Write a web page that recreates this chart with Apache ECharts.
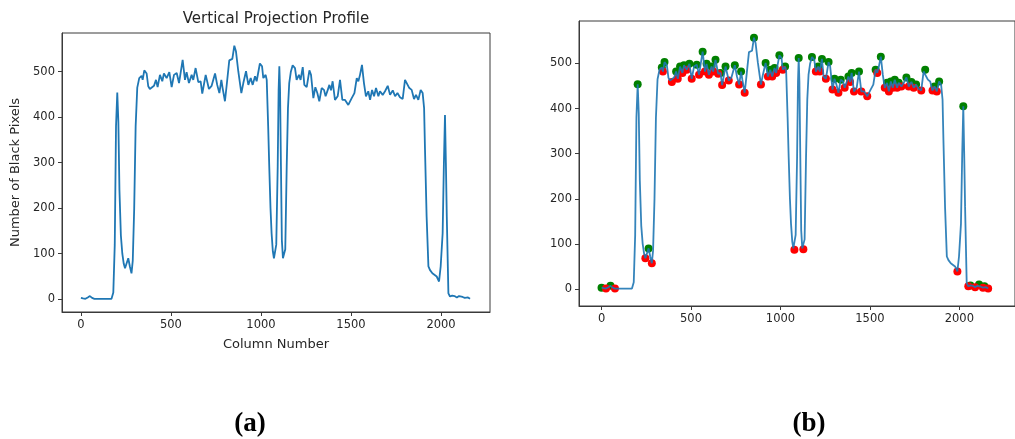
<!DOCTYPE html>
<html><head><meta charset="utf-8">
<script src="https://cdn.jsdelivr.net/npm/echarts@6/dist/echarts.min.js"></script>
<style>html,body{margin:0;padding:0;background:#fff}#c{width:1015px;height:439px}</style>
</head><body><div id="c"></div>
<script>
// Column numbers (x) and number of black pixels (y) read from the profile
const colX = [0,12,25,38,50,62,75,90,170,180,188,195,202,208,214,222,230,238,245,253,263,272,281,288,296,304,313,324,337,343,352,365,374,383,393,406,417,426,439,452,461,476,491,504,517,532,545,565,578,587,600,615,624,637,652,665,674,693,711,726,745,757,769,780,787,800,809,824,841,852,861,874,891,902,917,930,943,954,967,976,994,1006,1013,1026,1032,1040,1046,1053,1059,1066,1072,1078,1085,1093,1098,1102,1106,1111,1116,1122,1128,1135,1143,1150,1157,1166,1176,1189,1198,1211,1220,1232,1241,1254,1269,1278,1291,1302,1313,1324,1337,1350,1359,1371,1380,1389,1398,1411,1426,1439,1452,1467,1485,1504,1519,1532,1541,1550,1561,1572,1583,1596,1606,1617,1628,1639,1652,1661,1676,1689,1704,1717,1732,1745,1758,1772,1787,1800,1809,1824,1837,1850,1861,1874,1887,1898,1906,1911,1920,1930,1939,1952,1963,1976,1989,1998,2009,2016,2022,2027,2032,2041,2050,2062,2075,2088,2100,2110,2120,2132,2140,2150,2161];
const blackPx = [3,2,1,4,7,3,1,1,1,15,120,380,454,390,240,140,100,78,68,70,90,72,57,85,200,380,465,486,491,482,503,496,468,462,459,469,482,466,493,479,496,486,499,466,493,497,475,526,482,499,475,493,482,508,477,479,452,493,462,469,496,471,453,482,464,435,468,525,528,557,545,501,453,475,501,471,486,471,490,479,518,512,486,493,482,380,292,200,145,105,90,87,120,292,460,512,460,292,130,90,88,110,292,420,475,500,514,508,482,493,482,510,471,466,503,493,442,466,453,435,464,460,446,460,471,459,479,438,446,482,438,438,427,442,453,486,479,493,515,475,446,457,438,460,446,464,446,457,449,457,469,449,459,446,453,444,440,482,486,464,460,440,449,438,460,453,420,329,182,72,64,57,54,50,39,72,145,300,405,300,182,13,6,8,7,4,7,10,5,3,6,4,1];
const xTicks = [0,500,1000,1500,2000];
const yTicks = [0,100,200,300,400,500];
const titleText = 'Vertical Projection Profile';
const xName = 'Column Number';
const yName = 'Number of Black Pixels';
const panelLabels = ['(a)','(b)'];

const profile = colX.map((x,i)=>[x, blackPx[i]]);
const maxima = [], minima = [];
for (let i=0;i<blackPx.length;i++){
  const p = i>0 ? blackPx[i-1] : -Infinity, n = i<blackPx.length-1 ? blackPx[i+1] : -Infinity;
  const p2 = i>0 ? blackPx[i-1] : Infinity, n2 = i<blackPx.length-1 ? blackPx[i+1] : Infinity;
  if (blackPx[i] > p && blackPx[i] >= n) maxima.push([colX[i], blackPx[i]]);
  if (blackPx[i] < p2 && blackPx[i] <= n2) minima.push([colX[i], blackPx[i]]);
}

const FONT = 'DejaVu Sans';
const TXT = '#262626';
const AX = '#3a3a3a';
const plain = v => String(v);
function xAx(idx, min, max, name){
  return {type:'value', gridIndex:idx, min:min, max:max,
    name:name, nameLocation:'middle', nameGap:26,
    nameTextStyle:{fontFamily:FONT, fontSize:13, color:TXT},
    axisLine:{show:true, onZero:false, lineStyle:{color:AX, width:1}},
    axisTick:{show:true, length:4, inside:false, customValues:xTicks, lineStyle:{color:AX}},
    axisLabel:{customValues:xTicks, formatter:plain, fontFamily:FONT, fontSize:11.5, color:TXT, margin:7},
    splitLine:{show:false}};
}
function yAx(idx, min, max, name){
  return {type:'value', gridIndex:idx, min:min, max:max,
    name:name, nameLocation:'middle', nameGap:40, nameRotate:90,
    nameTextStyle:{fontFamily:FONT, fontSize:13, color:TXT},
    axisLine:{show:true, onZero:false, lineStyle:{color:AX, width:1}},
    axisTick:{show:true, length:4, inside:false, customValues:yTicks, lineStyle:{color:AX}},
    axisLabel:{customValues:yTicks, formatter:plain, fontFamily:FONT, fontSize:11.5, color:TXT, margin:7},
    splitLine:{show:false}};
}
const chart = echarts.init(document.getElementById('c'), null, {renderer:'canvas'});
chart.setOption({
  animation:false,
  backgroundColor:'#fff',
  title:{text:titleText, left:276, top:12, textAlign:'center', padding:0,
    textStyle:{fontFamily:FONT, fontSize:15, fontWeight:'normal', color:TXT}},
  grid:[
    {left:62, top:33, width:428, height:279, show:true, borderColor:AX, borderWidth:1, containLabel:false},
    {left:579, top:21, width:445, height:285, show:true, borderColor:AX, borderWidth:1, containLabel:false}
  ],
  xAxis:[xAx(0,-105,2272,xName), xAx(1,-126,2311,'')],
  yAxis:[yAx(0,-28,585,yName), yAx(1,-37.7,594,'')],
  series:[
    {type:'line', xAxisIndex:0, yAxisIndex:0, data:profile, showSymbol:false,
      lineStyle:{color:'#1f77b4', width:1.8}, z:3},
    {type:'scatter', xAxisIndex:1, yAxisIndex:1, data:maxima, symbolSize:8,
      itemStyle:{color:'#008000', opacity:1}, z:2},
    {type:'scatter', xAxisIndex:1, yAxisIndex:1, data:minima, symbolSize:8,
      itemStyle:{color:'#ff0000', opacity:1}, z:2},
    {type:'line', xAxisIndex:1, yAxisIndex:1, data:profile, showSymbol:false,
      lineStyle:{color:'#1f77b4', width:1.8, opacity:0.9}, z:4}
  ],
  graphic:[
    {type:'text', x:250, y:424, style:{text:panelLabels[0], fontFamily:'Liberation Serif', fontWeight:'bold', fontSize:27, fill:'#000', textAlign:'center', textVerticalAlign:'middle'}},
    {type:'text', x:809, y:424, style:{text:panelLabels[1], fontFamily:'Liberation Serif', fontWeight:'bold', fontSize:27, fill:'#000', textAlign:'center', textVerticalAlign:'middle'}}
  ]
});
</script></body></html>
